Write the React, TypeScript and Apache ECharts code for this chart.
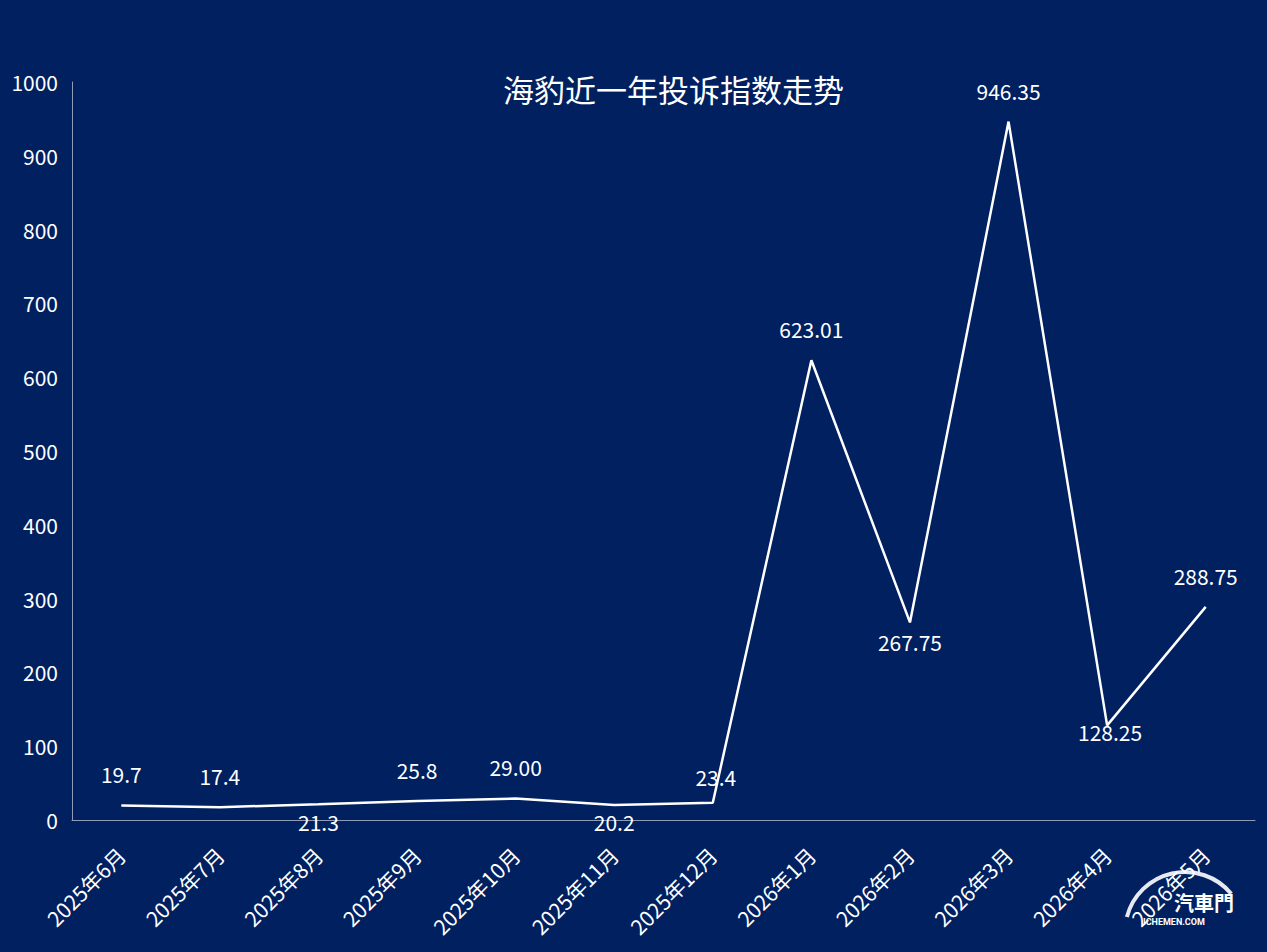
import React, { useEffect, useRef } from "react";
import * as echarts from "echarts";

const titleText = "海豹近一年投诉指数走势";
const categories = [
  "2025年6月", "2025年7月", "2025年8月", "2025年9月", "2025年10月", "2025年11月",
  "2025年12月", "2026年1月", "2026年2月", "2026年3月", "2026年4月", "2026年5月",
];
const values = [19.7, 17.4, 21.3, 25.8, 29.0, 20.2, 23.4, 623.01, 267.75, 946.35, 128.25, 288.75];
const valueLabels = ["19.7", "17.4", "21.3", "25.8", "29.00", "20.2", "23.4", "623.01", "267.75", "946.35", "128.25", "288.75"];
const labelSides = ["top", "top", "bottom", "top", "top", "bottom", "top", "top", "bottom", "top", "bottom", "top"];
const labelDistances = [20, 20, 7, 20, 21, 6, 15, 20, 9, 20, 0, 20];
const labelOffsets = [[0, 0], [0, 0], [0, 0], [0, 0], [0, 0], [0, 0], [3, 0], [0, 0], [0, 0], [0, 0], [3, -4], [0, 0]];

export default function App() {
  const ref = useRef<HTMLDivElement>(null);
  useEffect(() => {
    const chart = echarts.init(ref.current!, null, { renderer: "svg" });
    const font = "'Noto Sans CJK SC', 'Noto Sans', sans-serif";
    chart.setOption({
      animation: false,
      backgroundColor: "#002060",
      textStyle: { fontFamily: font },
      title: {
        text: titleText,
        left: 498,
        top: 68,
        textStyle: { color: "#ffffff", fontSize: 31, fontWeight: "normal", fontFamily: font },
      },
      grid: { left: 72, right: 12, top: 82, bottom: 132, containLabel: false },
      xAxis: {
        type: "category",
        data: categories,
        boundaryGap: true,
        axisLine: { show: true, lineStyle: { color: "#8f9bb8", width: 1 } },
        axisTick: { show: false },
        axisLabel: {
          color: "#ffffff",
          fontSize: 21,
          rotate: 45,
          margin: 31,
          interval: 0,
          fontFamily: font,
        },
      },
      yAxis: {
        type: "value",
        min: 0,
        max: 1000,
        interval: 100,
        axisLine: { show: true, lineStyle: { color: "#8f9bb8", width: 1 } },
        axisTick: { show: false },
        splitLine: { show: false },
        axisLabel: { color: "#ffffff", fontSize: 21, margin: 14, fontFamily: font, formatter: (v: number) => String(v) },
      },
      series: [
        {
          type: "line",
          data: values.map((v, i) => ({
            value: v,
            label: {
              show: true,
              position: labelSides[i],
              distance: labelDistances[i],
              offset: labelOffsets[i],
              formatter: () => valueLabels[i],
            },
          })),
          showSymbol: true,
          symbol: "circle",
          symbolSize: 1,
          itemStyle: { color: "rgba(255,255,255,0)" },
          lineStyle: { color: "#ffffff", width: 2.5 },
          label: { show: true, color: "#ffffff", fontSize: 21, fontFamily: font },
          emphasis: { disabled: true },
        },
      ],
      graphic: [
        {
          type: "arc",
          shape: { cx: 1185, cy: 932, r: 60, startAngle: -Math.PI * 0.92, endAngle: -Math.PI * 0.22 },
          style: { stroke: "rgba(255,255,255,0.9)", lineWidth: 4, fill: "none" },
          silent: true,
        },
        {
          type: "text",
          left: 1174,
          top: 892,
          style: { text: "汽車門", fill: "#ffffff", fontSize: 20, fontWeight: "bold", fontFamily: font },
          silent: true,
        },
        {
          type: "text",
          left: 1143,
          top: 917,
          style: { text: "ICHEMEN.COM", fill: "#ffffff", fontSize: 9, fontWeight: "bold", fontFamily: "Roboto, sans-serif" },
          silent: true,
        },
      ],
    });
    return () => chart.dispose();
  }, []);
  return <div ref={ref} style={{ width: 1267, height: 952, position: "absolute", left: 0, top: 0 }} />;
}
